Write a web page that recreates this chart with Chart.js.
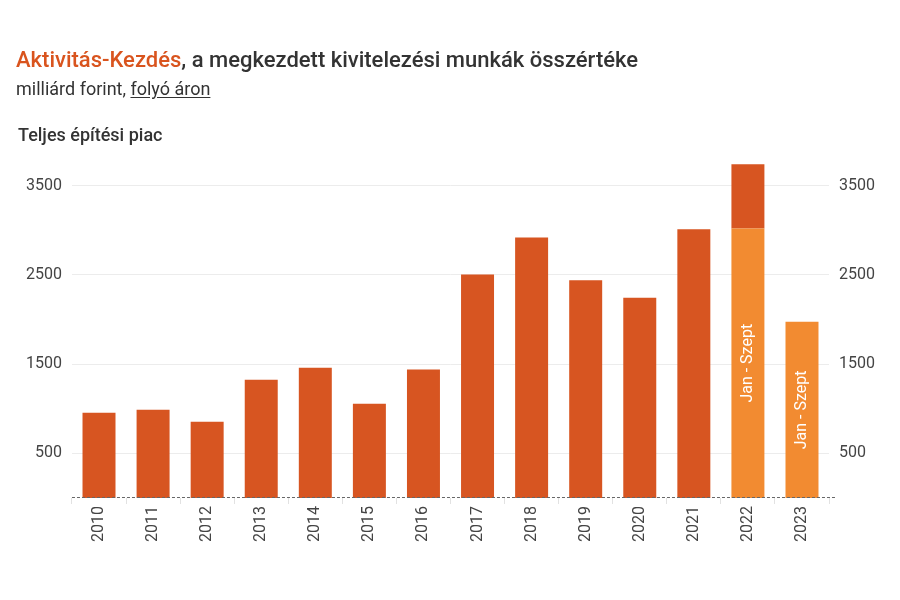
<!DOCTYPE html>
<html>
<head>
<meta charset="utf-8">
<script src="https://cdn.jsdelivr.net/npm/chart.js@4"></script>
<style>
  body { margin: 0; background: #fff; font-family: Roboto, sans-serif; color: #333; }
  #wrap { position: relative; width: 900px; height: 600px; }
  .title { position: absolute; left: 16px; top: 47px; font-size: 22px; font-weight: 500; }
  .title span { color: #d9541e; }
  .sub { position: absolute; left: 16px; top: 78px; font-size: 18px; }
  .sub u { text-underline-offset: 2px; }
  .panel { position: absolute; left: 18px; top: 124px; font-size: 18px; font-weight: 500; }
  canvas { position: absolute; left: 0; top: 0; }
</style>
</head>
<body>
<div id="wrap">
  <canvas id="chart" width="900" height="600"></canvas>
  <div class="title"><span>Aktivitás-Kezdés</span>, a megkezdett kivitelezési munkák összértéke</div>
  <div class="sub">milliárd forint, <u>folyó áron</u></div>
  <div class="panel">Teljes építési piac</div>
</div>
<script>
const years = ['2010', '2011', '2012', '2013', '2014', '2015', '2016', '2017', '2018', '2019', '2020', '2021', '2022', '2023'];
// full year values; for 2022 only the part after September
const restOfYear = [955, 990, 855, 1325, 1460, 1055, 1440, 2505, 2920, 2440, 2245, 3010, 720, null];
// January - September
const janSzept = [null, null, null, null, null, null, null, null, null, null, null, null, 3020, 1975];
const yTicks = [500, 1500, 2500, 3500];
const partLabel = 'Jan - Szept';

const darkOrange = '#d75521';
const lightOrange = '#f28b31';

// writes the "Jan - Szept" text inside the light bars
const barText = {
    id: 'barText',
    afterDatasetsDraw(chart) {
        const ctx = chart.ctx;
        const meta = chart.getDatasetMeta(0);
        meta.data.forEach((bar, i) => {
            if (janSzept[i] == null) return;
            const mid = (bar.y + bar.base) / 2;
            ctx.save();
            ctx.translate(bar.x, mid);
            ctx.rotate(-Math.PI / 2);
            ctx.fillStyle = '#fff';
            ctx.font = '16px Roboto';
            ctx.textAlign = 'center';
            ctx.textBaseline = 'middle';
            ctx.fillText(partLabel, 0, 0);
            ctx.restore();
        });
    }
};

// dashed zero line under the bars
const baseLine = {
    id: 'baseLine',
    afterDatasetsDraw(chart) {
        const { ctx, chartArea } = chart;
        const y = Math.round(chart.scales.y.getPixelForValue(0)) - 0.5;
        ctx.save();
        ctx.strokeStyle = '#666';
        ctx.lineWidth = 1;
        ctx.setLineDash([3, 2]);
        ctx.beginPath();
        ctx.moveTo(chartArea.left, y);
        ctx.lineTo(chartArea.right + 6, y);
        ctx.stroke();
        ctx.restore();
    }
};

function setTicks(axis) {
    axis.ticks = yTicks.map(v => ({ value: v }));
}

const tickFont = { family: 'Roboto', size: 16 };
const plainNumber = v => String(v);

new Chart(document.getElementById('chart'), {
    type: 'bar',
    data: {
        labels: years,
        datasets: [
            { label: partLabel, data: janSzept, backgroundColor: lightOrange },
            { label: 'Teljes év', data: restOfYear, backgroundColor: darkOrange }
        ]
    },
    options: {
        responsive: false,
        animation: false,
        layout: { padding: { left: 16, right: 15, top: 141, bottom: 56 } },
        plugins: { legend: { display: false }, tooltip: { enabled: false } },
        datasets: { bar: { categoryPercentage: 1, barPercentage: 0.61 } },
        scales: {
            x: {
                stacked: true,
                grid: { drawOnChartArea: false, drawTicks: true, tickLength: 6, color: '#e2e2e2', offset: true },
                border: { display: false },
                ticks: { color: '#444', font: tickFont, minRotation: 90, maxRotation: 90, padding: 2 }
            },
            y: {
                stacked: true,
                min: 0,
                max: 4000,
                afterBuildTicks: setTicks,
                grid: { color: '#ececec', drawTicks: false },
                border: { display: false },
                ticks: { color: '#444', font: tickFont, padding: 10, callback: plainNumber }
            },
            y2: {
                position: 'right',
                min: 0,
                max: 4000,
                afterBuildTicks: setTicks,
                grid: { display: false, drawTicks: false },
                border: { display: false },
                ticks: { color: '#444', font: tickFont, padding: 10, callback: plainNumber }
            }
        }
    },
    plugins: [barText, baseLine]
});
</script>
</body>
</html>
